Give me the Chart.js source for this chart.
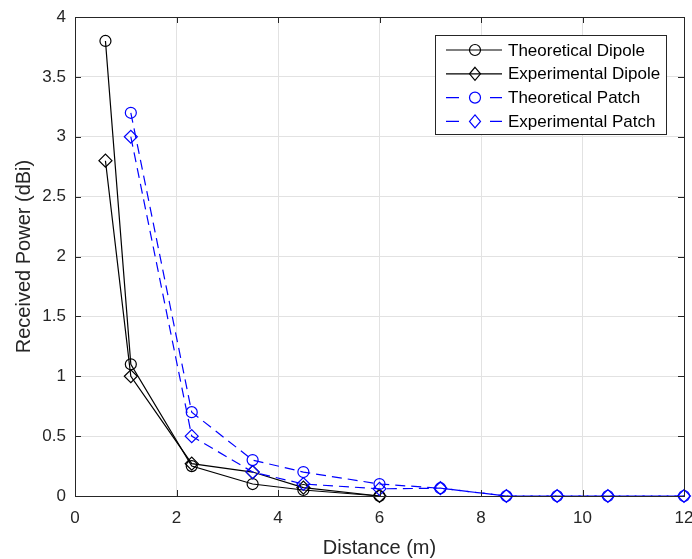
<!DOCTYPE html>
<html>
<head>
<meta charset="utf-8">
<script src="https://cdn.jsdelivr.net/npm/chart.js@4/dist/chart.umd.min.js"></script>
<style>
  html, body { margin: 0; padding: 0; background: #fff; }
  #wrap { width: 692px; height: 559px; }
</style>
</head>
<body>
<div id="wrap"><canvas id="lineChart" width="692" height="559"></canvas></div>
<script>
// data
const dipoleDist = [0.6, 1.1, 2.3, 3.5, 4.5, 6];
const theoDipole = [3.8, 1.1, 0.25, 0.1, 0.05, 0];
const expDipole  = [2.8, 1.0, 0.27, 0.2, 0.07, 0];

const patchDist = [1.1, 2.3, 3.5, 4.5, 6, 7.2, 8.5, 9.5, 10.5, 12];
const theoPatch = [3.2, 0.7, 0.3, 0.2, 0.1, 0.065, 0, 0, 0, 0];
const expPatch  = [3.0, 0.5, 0.2, 0.1, 0.06, 0.065, 0, 0, 0, 0];

const seriesNames = ['Theoretical Dipole', 'Experimental Dipole', 'Theoretical Patch', 'Experimental Patch'];
const xTicks = [0, 2, 4, 6, 8, 10, 12];
const yTicks = [0, 0.5, 1, 1.5, 2, 2.5, 3, 3.5, 4];

const FONT = "'Liberation Sans', Arial, Helvetica, sans-serif";
const AXIS = '#262626';

function pts(xs, ys) {
  return xs.map((x, i) => ({x: x, y: ys[i]}));
}

function series(name, xs, ys, color, style, dashed, order) {
  return {
    label: name,
    data: pts(xs, ys),
    showLine: true,
    borderColor: color,
    borderWidth: 1.2,
    borderDash: dashed ? [10, 6] : [],
    pointStyle: style,
    pointRadius: style === 'circle' ? 5.5 : 6.5,
    pointBorderWidth: 1.2,
    pointBorderColor: color,
    pointBackgroundColor: 'rgba(0,0,0,0)',
    pointHoverRadius: 6,
    tension: 0,
    clip: false,
    order: order
  };
}

// inward ticks + box like matlab
const boxTicks = {
  id: 'boxTicks',
  afterDatasetsDraw(chart) {
    const ctx = chart.ctx, a = chart.chartArea;
    const xs = chart.scales.x, ys = chart.scales.y;
    ctx.save();
    ctx.strokeStyle = AXIS;
    ctx.lineWidth = 1;
    ctx.beginPath();
    xTicks.forEach(v => {
      const px = Math.round(xs.getPixelForValue(v)) + 0.5;
      ctx.moveTo(px, a.bottom); ctx.lineTo(px, a.bottom - 6);
      ctx.moveTo(px, a.top); ctx.lineTo(px, a.top + 6);
    });
    yTicks.forEach(v => {
      const py = Math.round(ys.getPixelForValue(v)) + 0.5;
      ctx.moveTo(a.left, py); ctx.lineTo(a.left + 6, py);
      ctx.moveTo(a.right, py); ctx.lineTo(a.right - 6, py);
    });
    ctx.stroke();
    ctx.strokeRect(Math.round(a.left) + 0.5, Math.round(a.top) + 0.5,
                   Math.round(a.right - a.left), Math.round(a.bottom - a.top));
    ctx.restore();
  }
};

// legend inside the axes, top right
const boxLegend = {
  id: 'boxLegend',
  afterDraw(chart) {
    const ctx = chart.ctx;
    const bx = 435, by = 35, bw = 231, bh = 99;
    ctx.save();
    ctx.fillStyle = '#fff';
    ctx.fillRect(bx, by, bw, bh);
    ctx.strokeStyle = AXIS;
    ctx.lineWidth = 1;
    ctx.strokeRect(bx + 0.5, by + 0.5, bw, bh);
    ctx.font = '17px ' + FONT;
    ctx.textBaseline = 'middle';
    seriesNames.forEach((name, i) => {
      const ds = chart.data.datasets.find(d => d.label === name);
      const y = by + 15 + i * 23.8;
      const mx = 475;
      ctx.strokeStyle = ds.borderColor;
      ctx.lineWidth = 1.2;
      ctx.beginPath();
      if (ds.borderDash.length) {
        ctx.moveTo(446, y); ctx.lineTo(459, y);
        ctx.moveTo(490, y); ctx.lineTo(502, y);
      } else {
        ctx.moveTo(446, y); ctx.lineTo(502, y);
      }
      ctx.stroke();
      ctx.beginPath();
      if (ds.pointStyle === 'circle') {
        ctx.arc(mx, y, 5.5, 0, Math.PI * 2);
      } else {
        ctx.moveTo(mx, y - 6.5); ctx.lineTo(mx + 5.5, y);
        ctx.lineTo(mx, y + 6.5); ctx.lineTo(mx - 5.5, y);
        ctx.closePath();
      }
      ctx.stroke();
      ctx.fillStyle = '#000';
      ctx.fillText(name, 508, y + 1);
    });
    ctx.restore();
  }
};

const config = {
  type: 'scatter',
  data: {
    datasets: [
      series(seriesNames[0], dipoleDist, theoDipole, '#000000', 'circle', false, 4),
      series(seriesNames[1], dipoleDist, expDipole, '#000000', 'rectRot', false, 3),
      series(seriesNames[2], patchDist, theoPatch, '#0000ff', 'circle', true, 2),
      series(seriesNames[3], patchDist, expPatch, '#0000ff', 'rectRot', true, 1)
    ]
  },
  options: {
    responsive: false,
    animation: false,
    layout: { padding: { top: 17, right: 8, left: 0, bottom: 0 } },
    plugins: {
      legend: { display: false },
      tooltip: { enabled: false }
    },
    scales: {
      x: {
        type: 'linear',
        min: 0, max: 12,
        afterBuildTicks: s => { s.ticks = xTicks.map(v => ({value: v})); },
        afterFit: s => { s.height = 63; s.paddingRight = 0; s.paddingLeft = 0; },
        ticks: { color: AXIS, font: { family: FONT, size: 17 }, padding: 12, maxRotation: 0 },
        grid: { color: '#e2e2e2', drawTicks: false },
        border: { display: false },
        title: { display: true, text: 'Distance (m)', color: AXIS,
                 font: { family: FONT, size: 20, lineHeight: 1 }, padding: { top: 0, bottom: 1 } }
      },
      y: {
        min: 0, max: 4,
        afterBuildTicks: s => { s.ticks = yTicks.map(v => ({value: v})); },
        afterFit: s => { s.width = 75; s.paddingTop = 0; s.paddingBottom = 0; },
        ticks: { color: AXIS, font: { family: FONT, size: 17 }, padding: 9,
                 callback: v => String(v) },
        grid: { color: '#e2e2e2', drawTicks: false },
        border: { display: false },
        title: { display: true, text: 'Received Power (dBi)', color: AXIS,
                 font: { family: FONT, size: 20, lineHeight: 1 }, padding: { top: 14, bottom: 0 } }
      }
    }
  },
  plugins: [boxTicks, boxLegend]
};

const myChart = new Chart(document.getElementById('lineChart'), config);
</script>
</body>
</html>
